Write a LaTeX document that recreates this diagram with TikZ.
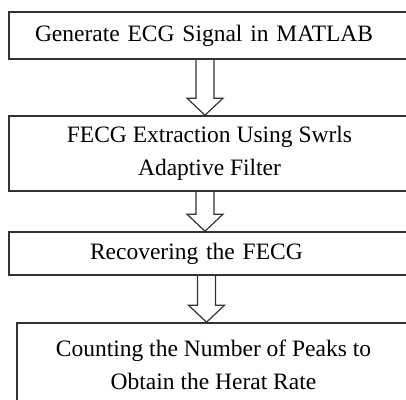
\documentclass[tikz,border=0pt]{standalone}
\usepackage{fontspec}
\setmainfont{Liberation Serif}
\usetikzlibrary{calc}

\tikzset{
	stepbox/.style={draw=black!80, line width=1.6pt, inner sep=0pt, minimum width=401pt, align=center, font=\fontsize{23.5}{33}\selectfont},
	hollowarrow/.style={draw=black!80, line width=1.2pt, line join=miter,
		to path={let \p1=(\tikztostart), \p2=(\tikztotarget) in
			(\x1-9pt,\y1) -- (\x1-9pt,\y2+17pt) -- (\x1-18pt,\y2+17pt) -- (\x1,\y2)
			-- (\x1+18pt,\y2+17pt) -- (\x1+9pt,\y2+17pt) -- (\x1+9pt,\y1)}}
}

\begin{document}
\begin{tikzpicture}[x=1pt, y=1pt]
	
	\fill[white] (0,0) rectangle (406,399);
	\useasboundingbox (0,0) rectangle (406,399);
	\clip (0,0) rectangle (406,399);
	
	\node[stepbox, minimum height=47pt, text width=349pt, inner xsep=26pt, align=left] (gen) at (209.5,363.5) {Generate ECG Signal in MATLAB};
	\node[stepbox, minimum height=75pt] (ext) at (209.5,245.5) {FECG Extraction Using Swrls\\Adaptive Filter};
	\node[stepbox, minimum height=43pt, text width=239pt, inner xsep=81pt, align=left] (rec) at (209.5,145.5) {Recovering the FECG};
	\node[stepbox, minimum height=84pt, minimum width=393pt] (cnt) at (213.5,34) {Counting the Number of Peaks to\\Obtain the Herat Rate};
	
	
	\draw[hollowarrow] ([xshift=-4.5pt]gen.south) to ([xshift=-4.5pt]ext.north);
	\draw[hollowarrow] ([xshift=-4.5pt]ext.south) to ([xshift=-4.5pt]rec.north);
	\draw[hollowarrow] ([xshift=-3pt]rec.south) to ([xshift=-7pt]cnt.north);
	
\end{tikzpicture}
\end{document}
